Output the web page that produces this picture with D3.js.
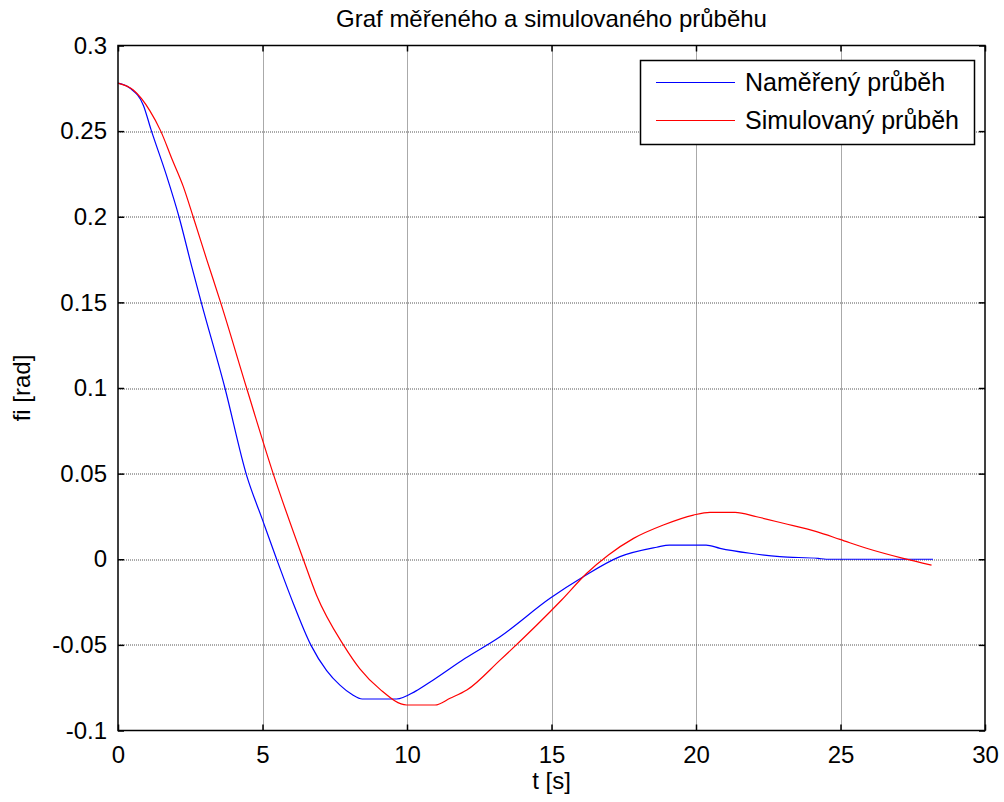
<!DOCTYPE html>
<html>
<head>
<meta charset="utf-8">
<script src="https://cdn.jsdelivr.net/npm/d3@7"></script>
<style>
  html, body { margin: 0; padding: 0; background: #fff; }
  svg { display: block; }
  text { font-family: "Liberation Sans", Arial, Helvetica, sans-serif; fill: #000; }
</style>
</head>
<body>
<svg id="chart" width="1004" height="802"></svg>
<script>
const titleText = "Graf měřeného a simulovaného průběhu";
const xLabel = "t [s]";
const yLabel = "fi [rad]";
const seriesNames = ["Naměřený průběh", "Simulovaný průběh"];
const seriesColors = ["#0000ff", "#ff0000"];

const xTicks = [0, 5, 10, 15, 20, 25, 30];
const xTickLabels = ["0", "5", "10", "15", "20", "25", "30"];
const yTicks = [0.3, 0.25, 0.2, 0.15, 0.1, 0.05, 0, -0.05, -0.1];
const yTickLabels = ["0.3", "0.25", "0.2", "0.15", "0.1", "0.05", "0", "-0.05", "-0.1"];

const tMeasured = [0, 0.42, 0.88, 1.14, 1.68, 2.11, 2.55, 2.88, 3.7, 4.45, 5.0, 5.49, 6.07, 6.67, 7.22, 7.68, 8.1, 8.45, 9.64, 10.3, 10.91, 12.0, 13.22, 14.95, 16.1, 17.37, 18.64, 19.08, 20.35, 20.83, 21.87, 22.9, 24.23, 24.5, 28.2];
const fiMeasured = [0.278, 0.275, 0.265, 0.251, 0.224, 0.2, 0.171, 0.15, 0.1, 0.049, 0.023, 0.0, -0.026, -0.05, -0.065, -0.0735, -0.079, -0.0816, -0.0816, -0.077, -0.0705, -0.058, -0.0452, -0.0228, -0.0102, 0.0015, 0.007, 0.0083, 0.0083, 0.0064, 0.0035, 0.0015, 0.0005, 0.0, 0.0];

const tSimulated = [0, 0.53, 1.1, 1.48, 1.86, 2.26, 2.6, 3.07, 3.55, 4.45, 5.37, 6.41, 6.87, 7.8, 8.37, 9.07, 9.99, 10.97, 11.49, 12.07, 13.22, 15.35, 16.22, 16.97, 17.84, 18.87, 19.91, 20.48, 21.35, 22.1, 23.02, 24.17, 24.98, 25.9, 27.17, 28.15];
const fiSimulated = [0.278, 0.274, 0.262, 0.25, 0.234, 0.2176, 0.2, 0.175, 0.15, 0.1, 0.05, 0.0, -0.021, -0.05, -0.064, -0.076, -0.0851, -0.0851, -0.0812, -0.0764, -0.0589, -0.0238, -0.0082, 0.0025, 0.0122, 0.02, 0.0258, 0.0274, 0.0274, 0.0248, 0.021, 0.0161, 0.0116, 0.0064, 0.0005, -0.0034];

const mLeft = 118, mRight = 985, mTop = 45.5, mBottom = 730.5;
const W = mRight - mLeft, H = mBottom - mTop;
const FONT = 24;

const svg = d3.select("#chart");
const g = svg.append("g").attr("transform", `translate(${mLeft},${mTop})`);

const x = d3.scaleLinear().domain([0, 30]).range([0, W]);
const y = d3.scaleLinear().domain([-0.1, 0.3]).range([H, 0]);

g.append("rect").attr("width", W).attr("height", H).attr("fill", "#fff");

// grid
const grid = g.append("g").attr("class", "grid");
grid.selectAll("line.gx").data(xTicks.slice(1, -1)).join("line")
  .attr("x1", d => Math.round(x(d)) + 0.5).attr("x2", d => Math.round(x(d)) + 0.5)
  .attr("y1", 0).attr("y2", H)
  .attr("stroke", "#555").attr("stroke-width", 1).attr("stroke-dasharray", "1,1");
grid.selectAll("line.gy").data(yTicks.slice(1, -1)).join("line")
  .attr("y1", d => Math.round(y(d)) + 0.5).attr("y2", d => Math.round(y(d)) + 0.5)
  .attr("x1", 0).attr("x2", W)
  .attr("stroke", "#555").attr("stroke-width", 1).attr("stroke-dasharray", "1,1");

const xi = d => xTickLabels[xTicks.indexOf(d)];
const yi = d => yTickLabels[yTicks.indexOf(d)];

const axB = g.append("g").attr("transform", `translate(0,${H})`)
  .call(d3.axisBottom(x).tickValues(xTicks).tickFormat(xi).tickSizeInner(-6).tickSizeOuter(0).tickPadding(10));
const axT = g.append("g")
  .call(d3.axisTop(x).tickValues(xTicks).tickFormat("").tickSizeInner(-6).tickSizeOuter(0));
const axL = g.append("g")
  .call(d3.axisLeft(y).tickValues(yTicks).tickFormat(yi).tickSizeInner(-6).tickSizeOuter(0).tickPadding(11));
const axR = g.append("g").attr("transform", `translate(${W},0)`)
  .call(d3.axisRight(y).tickValues(yTicks).tickFormat("").tickSizeInner(-6).tickSizeOuter(0));

[axB, axT, axL, axR].forEach(a => {
  a.select(".domain").remove();
  a.selectAll("line").attr("stroke", "#000").attr("stroke-width", 1.5);
  a.selectAll("text").attr("font-size", FONT).attr("font-family", '"Liberation Sans", Arial, sans-serif').attr("fill", "#000");
});
axB.selectAll("text").attr("dy", "0.95em");

const lineGen = d3.line().x(d => x(d[0])).y(d => y(d[1])).curve(d3.curveMonotoneX);
const measured = tMeasured.map((t, i) => [t, fiMeasured[i]]);
const simulated = tSimulated.map((t, i) => [t, fiSimulated[i]]);

g.append("path").datum(measured).attr("d", lineGen)
  .attr("fill", "none").attr("stroke", seriesColors[0]).attr("stroke-width", 1.2);
g.append("path").datum(simulated).attr("d", lineGen)
  .attr("fill", "none").attr("stroke", seriesColors[1]).attr("stroke-width", 1.2);

g.append("rect").attr("width", W).attr("height", H)
  .attr("fill", "none").attr("stroke", "#000").attr("stroke-width", 1.5);

// legend
const lg = svg.append("g");
lg.append("rect").attr("x", 640.5).attr("y", 60.5).attr("width", 334).attr("height", 84)
  .attr("fill", "#fff").attr("stroke", "#000").attr("stroke-width", 1.5);
seriesNames.forEach((name, i) => {
  const yy = 82.5 + i * 38;
  lg.append("line").attr("x1", 656).attr("x2", 735).attr("y1", yy).attr("y2", yy)
    .attr("stroke", seriesColors[i]).attr("stroke-width", 1.2);
  lg.append("text").attr("x", 745).attr("y", yy).attr("dy", "0.35em")
    .attr("font-size", 25).text(name);
});

svg.append("text").attr("x", mLeft + W / 2).attr("y", 27).attr("text-anchor", "middle")
  .attr("font-size", 24).text(titleText);
svg.append("text").attr("x", mLeft + W / 2).attr("y", 789).attr("text-anchor", "middle")
  .attr("font-size", FONT).text(xLabel);
svg.append("text").attr("transform", `translate(30,${mTop + H / 2}) rotate(-90)`)
  .attr("text-anchor", "middle").attr("font-size", FONT).text(yLabel);
</script>
</body>
</html>
